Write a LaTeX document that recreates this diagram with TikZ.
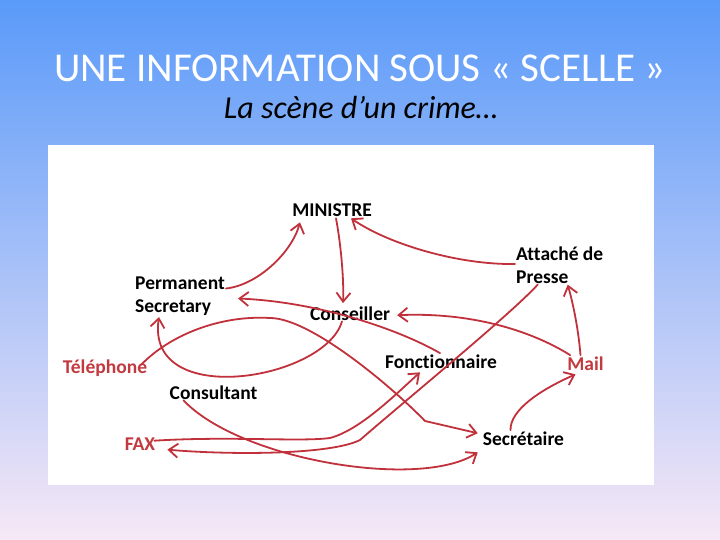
\documentclass[tikz,border=0pt]{standalone}
\usepackage{fontspec}
\setmainfont{Carlito}[Ligatures=NoCommon]
\usepackage{xcolor}
\usepackage{tikz}
\usetikzlibrary{arrows.meta}
\definecolor{SkyTop}{HTML}{5A9AF9}
\definecolor{SkyMid}{HTML}{98C5F6}
\definecolor{SkyLow}{HTML}{F6E8F6}
\definecolor{InkRed}{HTML}{C0313B}
\definecolor{LabelRed}{HTML}{C23A3F}

\begin{document}
\begin{tikzpicture}[x=1pt,y=-1pt,
  every node/.style={font=\fontsize{19.5}{23}\selectfont\bfseries, inner sep=1pt},
  redlbl/.style={text=LabelRed},
  link/.style={draw=InkRed, line width=1.8pt, line cap=round, line join=round,
    -{Straight Barb[length=9pt,width=14pt]}}]
  \useasboundingbox (0,0) rectangle (720,540);
  \shade[top color=SkyTop, middle color=SkyMid, bottom color=SkyLow] (0,0) rectangle (720,540);
  \fill[white] (48,145) rectangle (654,485);
  % titles
  \node[anchor=base, text=white, font=\fontsize{41}{46}\selectfont] (title) at (360,82) {UNE INFORMATION SOUS « SCELLE »};
  \node[anchor=base, font=\fontsize{32}{36}\selectfont\itshape] (subtitle) at (361,119) {La scène d’un crime…};
  % people and channels
  \node[anchor=base] (minister) at (332,217) {MINISTRE};
  \node[align=left, anchor=west] (permsec) at (134,296.5) {Permanent\\Secretary};
  \node[anchor=base] (conseiller) at (350,320) {Conseiller};
  \node[align=left, anchor=west] (attache) at (515,265) {Attaché de\\Presse};
  \node[anchor=base, redlbl] (telephone) at (105,373) {Téléphone};
  \node[anchor=base] (fonct) at (441,368) {Fonctionnaire};
  \node[anchor=base, redlbl] (mail) at (585.5,370) {Mail};
  \node[anchor=base] (consultant) at (213.5,399) {Consultant};
  \node[anchor=base, redlbl] (fax) at (140,450) {FAX};
  \node[anchor=base] (secretaire) at (523.5,445) {Secrétaire};
  % leaks
  \draw[link] ([yshift=8pt]permsec.east) .. controls (258,285) and (292,252) .. ([shift={(-32pt,-4pt)}]minister.south);
  \draw[link] ([xshift=4pt]minister.south) .. controls (341,245) and (344,280) .. ([xshift=-7pt,yshift=2pt]conseiller.north);
  \draw[link] ([yshift=1pt]attache.west) .. controls (460,265) and (390,245) .. ([xshift=19pt]minister.south);
  \draw[link] ([xshift=-1pt]fonct.north) .. controls (400,330) and (320,302) .. ([xshift=12pt,yshift=-2pt]permsec.east);
  \draw[link] ([xshift=-8pt]conseiller.south) .. controls (325,380) and (145,410) .. ([xshift=-21pt]permsec.south);
  \draw[link] ([xshift=-7pt,yshift=3pt]telephone.east) .. controls (170,335) and (220,315) .. (270,318)
    .. controls (310,318) and (390,385) .. (425,421) -- ([xshift=-4pt,yshift=5pt]secretaire.west);
  \draw[link] ([xshift=-30pt]consultant.south) .. controls (240,460) and (420,490) .. ([xshift=-4pt,yshift=-6pt]secretaire.south west);
  \draw[link] ([xshift=-2pt,yshift=3pt]fax.east) .. controls (230,436) and (300,442) .. (330,438)
    .. controls (360,430) and (395,395) .. ([xshift=-21pt,yshift=-3pt]fonct.south);
  \draw[link] ([xshift=-22pt]attache.south) .. controls (510,315) and (400,405) .. (360,440)
    .. controls (330,455) and (230,455) .. ([xshift=11pt,yshift=-6pt]fax.east);
  \draw[link] ([xshift=4pt]mail.north west) .. controls (530,330) and (470,312) .. ([xshift=6pt,yshift=-2pt]conseiller.east);
  \draw[link] ([xshift=-5pt]mail.north) .. controls (578,325) and (572,300) .. ([xshift=8pt]attache.south);
  \draw[link] ([xshift=-13pt]secretaire.north) .. controls (510,410) and (540,390) .. ([xshift=-10pt,yshift=-3pt]mail.south);
\end{tikzpicture}
\end{document}
